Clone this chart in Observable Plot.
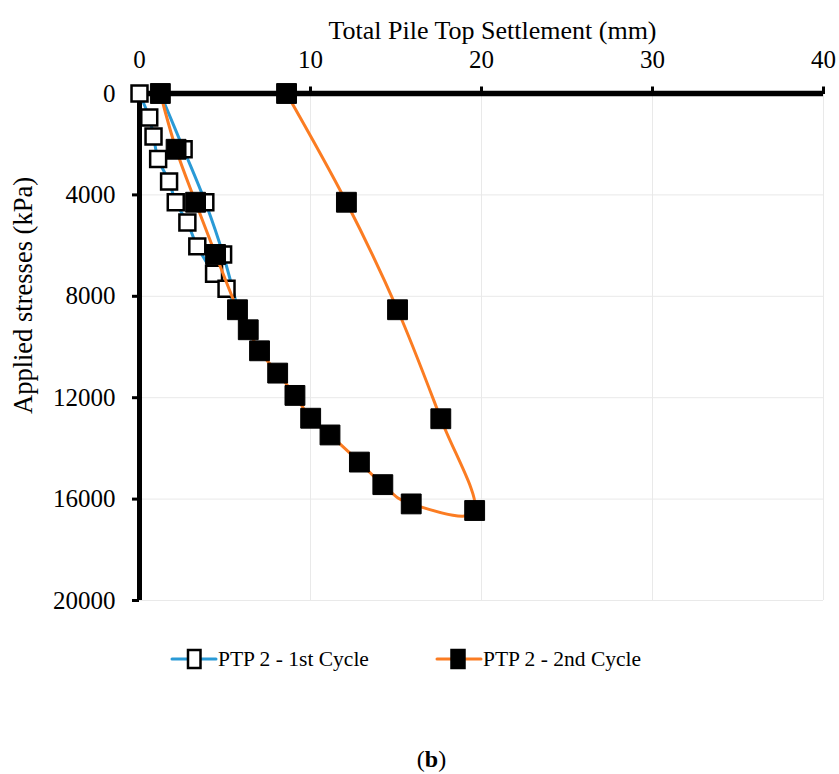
<!DOCTYPE html>
<html><head><meta charset="utf-8">
<script src="https://cdn.jsdelivr.net/npm/d3@7"></script>
<script src="https://cdn.jsdelivr.net/npm/@observablehq/plot@0.6"></script>
<style>
body{margin:0;background:#fff;}
#wrap{position:relative;width:839px;height:774px;font-family:'Liberation Serif','DejaVu Serif',serif;color:#000;}
#chart{position:absolute;left:0;top:0;}
.item{position:absolute;top:644px;height:30px;display:flex;align-items:center;font-size:21.5px;white-space:nowrap;}
.item svg{display:block;}
#caption{position:absolute;top:746px;left:0;width:863px;text-align:center;font-size:24px;}
</style></head><body>
<div id="wrap"><div id="chart"></div><div id="legend"></div><div id="caption">(<b>b</b>)</div></div>
<script>
// ---- data ----
const xTitle = "Total Pile Top Settlement (mm)";
const yTitle = "Applied stresses (kPa)";
const xTicks = [0, 10, 20, 30, 40];
const yTicks = [0, 4000, 8000, 12000, 16000, 20000];
const seriesNames = ["PTP 2 - 1st Cycle", "PTP 2 - 2nd Cycle"];
const seriesColors = ["#2a9ad6", "#fb7c22"];

const settlement1 = [0, 0.57, 0.82, 1.09, 1.73, 2.12, 2.80, 3.38, 4.36, 5.09, 5.73, 4.89, 3.85, 2.58, 1.22];
const stress1     = [0, 950, 1700, 2580, 3470, 4290, 5090, 6030, 7110, 7700, 8530, 6350, 4290, 2200, 0];

const settlement2 = [1.22, 2.14, 3.28, 4.45, 5.73, 6.36, 7.02, 8.08, 9.09, 10.01, 11.14, 12.86, 14.23, 15.89, 19.6, 17.62, 15.09, 12.1, 8.6];
const stress2     = [0, 2200, 4290, 6350, 8530, 9320, 10150, 11030, 11910, 12810, 13470, 14540, 15430, 16190, 16450, 12830, 8530, 4290, 0];

const cycle1 = settlement1.map((s, i) => ({s, p: stress1[i]}));
const cycle2 = settlement2.map((s, i) => ({s, p: stress2[i]}));

const FONT = "'Liberation Serif','DejaVu Serif',serif";

const chart = Plot.plot({
  width: 839, height: 615,
  marginLeft: 139, marginRight: 16, marginTop: 93, marginBottom: 15,
  style: {fontFamily: FONT, fontSize: "25px", color: "#000", background: "#fff", overflow: "visible"},
  x: {domain: [0, 40]},
  y: {domain: [0, 20000], reverse: true},
  marks: [
    Plot.gridX(xTicks.slice(1), {stroke: "#e9e9e9", strokeOpacity: 1, strokeWidth: 1}),
    Plot.gridY(yTicks.slice(1), {stroke: "#e9e9e9", strokeOpacity: 1, strokeWidth: 1}),
    Plot.axisX(xTicks, {anchor: "top", tickSize: 7.5, tickPadding: 18, strokeWidth: 3, label: null, fontSize: 25, fontFamily: FONT, tickFormat: d => String(d)}),
    Plot.axisY(yTicks, {anchor: "left", tickSize: 7, tickPadding: 17, strokeWidth: 3, label: null, fontSize: 25, fontFamily: FONT, tickFormat: d => String(d)}),
    Plot.ruleY([0], {x1: 0, x2: 40, stroke: "#000", strokeWidth: 5.5}),
    Plot.ruleX([0], {y1: 0, y2: 20000, stroke: "#000", strokeWidth: 5}),
    Plot.text([xTitle], {frameAnchor: "top", textAnchor: "middle", dx: 11, dy: -73, fontSize: 26, fontFamily: FONT}),
    Plot.text([yTitle], {frameAnchor: "left", textAnchor: "middle", rotate: -90, dx: -116, dy: -51.5, fontSize: 26.5, fontFamily: FONT}),
    Plot.line(cycle1, {x: "s", y: "p", stroke: seriesColors[0], strokeWidth: 3, curve: "cardinal"}),
    Plot.dot(cycle1, {x: "s", y: "p", symbol: "square", r: 9, fill: "#fff", stroke: "#000", strokeWidth: 2.5}),
    Plot.line(cycle2, {x: "s", y: "p", stroke: seriesColors[1], strokeWidth: 3, curve: "cardinal"}),
    Plot.dot(cycle2, {x: "s", y: "p", symbol: "square", r: 11.2, fill: "#000", stroke: "#000", strokeWidth: 1})
  ]
});
document.getElementById("chart").appendChild(chart);

// ---- legend ----
const legend = document.getElementById("legend");
const legendX = [170, 435];
seriesNames.forEach((name, i) => {
  const item = document.createElement("div");
  item.className = "item";
  item.style.left = legendX[i] + "px";
  const fill = i === 0 ? "#fff" : "#000";
  item.innerHTML = `<svg width="48" height="30"><line x1="2" y1="15" x2="46" y2="15" stroke="${seriesColors[i]}" stroke-width="3" stroke-linecap="round"/><rect x="${i===0?18:16.5}" y="6" width="${i===0?12.5:13}" height="18" fill="${fill}" stroke="#000" stroke-width="2.5"/></svg><span>${name}</span>`;
  legend.appendChild(item);
});
</script>
</body></html>
